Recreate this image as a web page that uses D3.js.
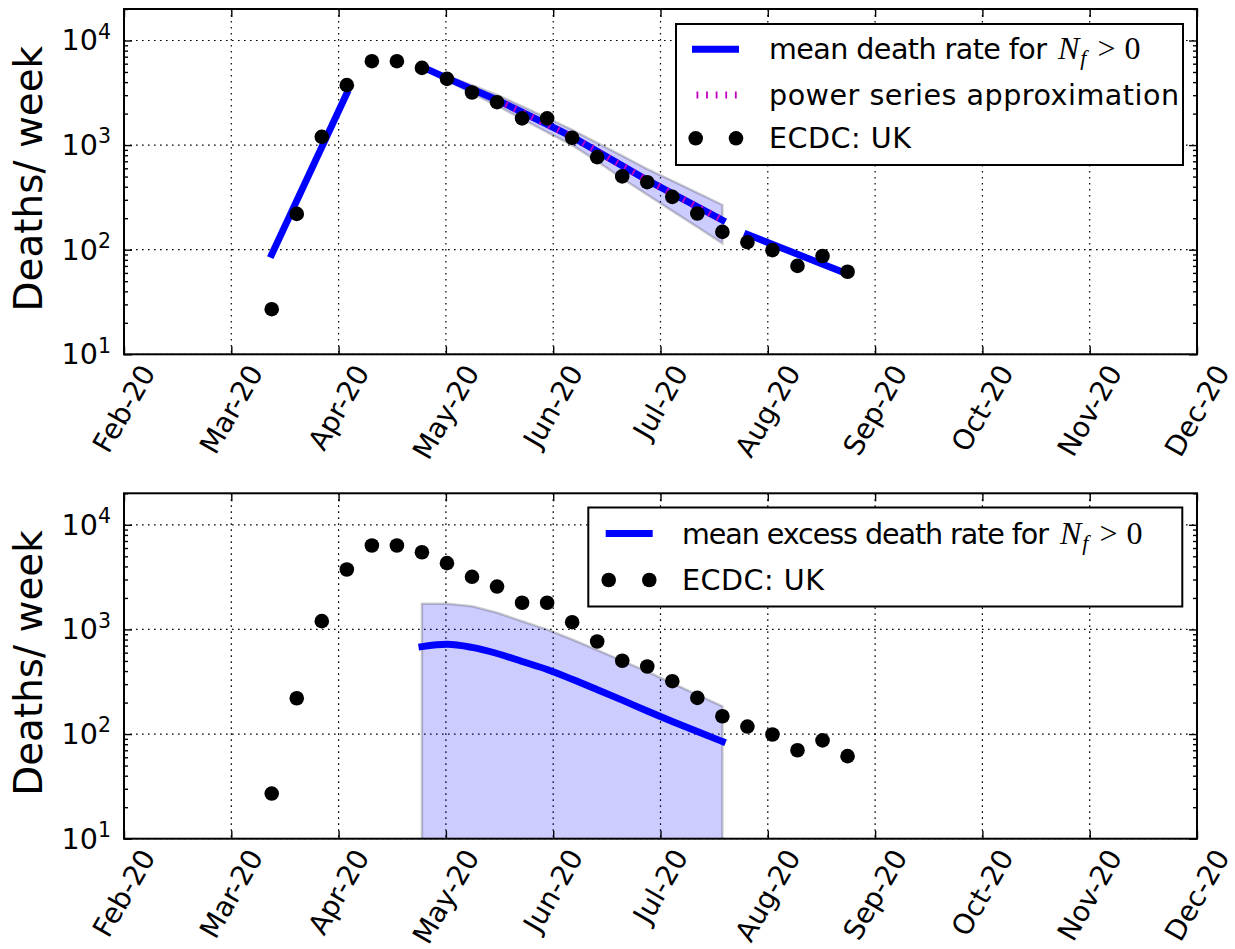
<!DOCTYPE html>
<html><head><meta charset="utf-8">
<script src="https://cdn.jsdelivr.net/npm/d3@7"></script>
<style>
body{margin:0;background:#fff}
svg{display:block}
text{font-family:"DejaVu Sans",sans-serif;fill:#000}
</style>
</head><body>
<script>
// ---------- data ----------
// x positions are days counted from the Feb-20 tick; ticks every 30 days
const monthLabels = ["Feb-20","Mar-20","Apr-20","May-20","Jun-20","Jul-20","Aug-20","Sep-20","Oct-20","Nov-20","Dec-20"];
const monthTickDays = [0,30,60,90,120,150,180,210,240,270,300];
const yTickExponents = [1,2,3,4];

// ECDC: UK weekly deaths
const weekDays = [41.3,48.3,55.3,62.3,69.3,76.3,83.3,90.3,97.3,104.3,111.3,118.3,125.3,132.3,139.3,146.3,153.3,160.3,167.3,174.3,181.3,188.3,195.3,202.3];
const ukDeaths = [27,220,1200,3740,6340,6340,5470,4300,3185,2570,1800,1800,1173,767,502,442,320,222,148,118,99,70,87,61.5];

// top panel: mean death rate for N_f > 0 (three fitted pieces)
const growthDays = [41.3,62.3];
const growthRate = [90,3120];
const decayDays = [83.3,90.3,97.3,104.3,111.3,118.3,125.3,132.3,139.3,146.3,153.3,160.3,167.3];
const decayRate = [5600,4370,3430,2700,2065,1575,1200,873,635,462,345,257,192];
const decayUpper = [5710,4590,3740,3020,2350,1820,1400,1050,790,590,455,350,268];
const decayLower = [5490,4150,3120,2380,1780,1330,1000,700,480,335,235,165,115];
const lateDays = [174.3,202.3];
const lateRate = [140,58.5];
// power series approximation
const powerDays = [104.3,111.3,118.3,125.3,132.3,139.3,146.3,153.3,160.3,167.3];
const powerRate = [2700,2065,1575,1200,873,635,462,345,257,192];

// bottom panel: mean excess death rate for N_f > 0
const excessDays = [83.3,90.3,97.3,104.3,111.3,118.3,125.3,132.3,139.3,146.3,153.3,160.3,167.3];
const excessRate = [684,721,673,589,494,414,334,266,211,166,132,106,85];
const excessUpper = [1760,1760,1667,1445,1197,995,801,635,501,395,306,237,184];
const excessLower = [1,1,1,1,1,1,1,1,1,1,1,1,1];

// ---------- drawing ----------
const W = 1235, H = 949;
const FS = 28.6, FS_TICK = 28, FS_LABEL = 38.9;
const BLUE = "#0000ff", MAG = "#bf00bf";
const svg = d3.select("body").append("svg").attr("width", W).attr("height", H);

const left = 124, right = 1197;
const x = d3.scaleLinear().domain([0,300]).range([left,right]);

function zip(a,b){ return a.map((d,i)=>[d,b[i]]); }

function drawPanel(top, bottom, id, drawData, legendFn){
  const y = d3.scaleLog().domain([10,20000]).range([bottom, top]);
  const g = svg.append("g");

  g.append("clipPath").attr("id","clip"+id).append("rect")
    .attr("x",left).attr("y",top).attr("width",right-left).attr("height",bottom-top);

  // grid
  const grid = g.append("g").attr("stroke","#000").attr("stroke-width",1.2).attr("stroke-dasharray","1.6,4.4");
  monthTickDays.forEach(d=>{
    grid.append("line").attr("x1",x(d)).attr("x2",x(d)).attr("y1",top).attr("y2",bottom);
  });
  yTickExponents.forEach(e=>{
    const v = Math.pow(10,e);
    grid.append("line").attr("x1",left).attr("x2",right).attr("y1",y(v)).attr("y2",y(v));
  });

  const data = g.append("g").attr("clip-path","url(#clip"+id+")");
  drawData(data, y);

  // axes using d3 axis generators (inward ticks)
  const fmt = ()=>"";
  const ticksY = [];
  for(let e=1;e<=4;e++){ for(let m=2;m<=9;m++){ const v=m*Math.pow(10,e); if(v<=20000) ticksY.push(v);} }
  const majY = yTickExponents.map(e=>Math.pow(10,e));
  const axL = d3.axisRight(y).tickValues(majY).tickSize(8).tickFormat(fmt);
  const axLm = d3.axisRight(y).tickValues(ticksY).tickSize(4).tickFormat(fmt);
  const axR = d3.axisLeft(y).tickValues(majY).tickSize(8).tickFormat(fmt);
  const axRm = d3.axisLeft(y).tickValues(ticksY).tickSize(4).tickFormat(fmt);
  const axB = d3.axisTop(x).tickValues(monthTickDays).tickSize(8).tickFormat(fmt);
  const axT = d3.axisBottom(x).tickValues(monthTickDays).tickSize(8).tickFormat(fmt);
  [[axL,`translate(${left},0)`],[axLm,`translate(${left},0)`],[axR,`translate(${right},0)`],[axRm,`translate(${right},0)`],
   [axB,`translate(0,${bottom})`],[axT,`translate(0,${top})`]].forEach(([a,t])=>{
    const ag = g.append("g").attr("transform",t).call(a);
    ag.select(".domain").remove();
    ag.selectAll("line").attr("stroke","#000").attr("stroke-width",1.4);
  });
  g.append("rect").attr("x",left).attr("y",top).attr("width",right-left).attr("height",bottom-top)
    .attr("fill","none").attr("stroke","#000").attr("stroke-width",2);

  // y tick labels 10^e
  yTickExponents.forEach(e=>{
    const t = g.append("text").attr("x",111).attr("y",y(Math.pow(10,e))+10)
      .attr("text-anchor","end").style("font-size",FS+"px");
    t.append("tspan").text("10");
    t.append("tspan").text(e).style("font-size","20.5px").attr("dy",-11.7);
  });

  // x tick labels rotated 60deg, centered on tick (matplotlib style)
  const Hbox = FS_TICK*1.164;
  monthLabels.forEach((lab,i)=>{
    const t = g.append("text").text(lab).style("font-size",FS_TICK+"px")
      .attr("text-anchor","middle").attr("y",0.346*FS_TICK);
    const L = t.node().getComputedTextLength();
    const hb = 0.866*L + 0.5*Hbox;
    t.attr("transform",`translate(${x(monthTickDays[i])},${bottom+5+hb/2}) rotate(-60)`);
  });

  // y label
  g.append("text").text("Deaths/ week").style("font-size",FS_LABEL+"px")
    .attr("text-anchor","middle")
    .attr("transform",`translate(41.5,${(top+bottom)/2-3}) rotate(-90)`);

  legendFn(g);
  return y;
}

// legend label text (fixed width like the reference) followed by math "N_f > 0"
function legendText(g, x0, yb, str, len, withMath){
  g.append("text").attr("x",x0).attr("y",yb).style("font-size",FS+"px")
    .attr("textLength",len).attr("lengthAdjust","spacing").text(str);
  if(!withMath) return;
  const t = g.append("text").attr("x",x0+len+11).attr("y",yb)
    .style("font-family","'Liberation Serif',serif").style("font-size","32px");
  t.append("tspan").text("N").style("font-style","italic");
  t.append("tspan").text("f").attr("dx",1).attr("dy",6).style("font-style","italic").style("font-size","22px");
  t.append("tspan").text(">").attr("dx",11).attr("dy",-6);
  t.append("tspan").text("0").attr("dx",9);
}

const lineGen = (y)=> d3.line().x(d=>x(d[0])).y(d=>y(d[1]));

// ---- top panel ----
drawPanel(9, 354.3, "a", (g,y)=>{
  const area = d3.area().x(d=>x(d[0])).y0(d=>y(d[2])).y1(d=>y(d[1]));
  g.append("path").datum(decayDays.map((d,i)=>[d,decayUpper[i],decayLower[i]]))
    .attr("d",area).attr("fill","rgba(0,0,255,0.2)").attr("stroke","rgba(0,0,0,0.2)").attr("stroke-width",2.5);
  [[growthDays,growthRate],[decayDays,decayRate],[lateDays,lateRate]].forEach(([dd,vv])=>{
    g.append("path").datum(zip(dd,vv)).attr("d",lineGen(y)).attr("fill","none")
      .attr("stroke",BLUE).attr("stroke-width",6.9).attr("stroke-linecap","square");
  });
  g.append("path").datum(zip(powerDays,powerRate)).attr("d",lineGen(y)).attr("fill","none")
    .attr("stroke",MAG).attr("stroke-width",6.9).attr("stroke-dasharray","1.8,7.8");
  g.selectAll("circle").data(zip(weekDays,ukDeaths)).enter().append("circle")
    .attr("cx",d=>x(d[0])).attr("cy",d=>y(d[1])).attr("r",7.3).attr("fill","#000");
}, (g)=>{
  g.append("rect").attr("x",676).attr("y",24).attr("width",507).attr("height",141)
    .attr("fill","#fff").attr("stroke","#000").attr("stroke-width",2);
  g.append("line").attr("x1",692).attr("x2",739).attr("y1",49.3).attr("y2",49.3).attr("stroke",BLUE).attr("stroke-width",6.9);
  g.append("line").attr("x1",692).attr("x2",739).attr("y1",95).attr("y2",95).attr("stroke",MAG).attr("stroke-width",6.9)
    .attr("stroke-dasharray","1.8,7.8").attr("stroke-dashoffset",-4.5);
  [695.7,736].forEach(cx=>g.append("circle").attr("cx",cx).attr("cy",138.3).attr("r",7.3).attr("fill","#000"));
  legendText(g, 769, 49.3+10, "mean death rate for", 278, true);
  legendText(g, 769, 95+10, "power series approximation", 410, false);
  legendText(g, 769, 138.3+10, "ECDC: UK", 142, false);
});

// ---- bottom panel ----
drawPanel(493.3, 838.7, "b", (g,y)=>{
  const area = d3.area().x(d=>x(d[0])).y0(d=>y(d[2])).y1(d=>y(d[1]));
  g.append("path").datum(excessDays.map((d,i)=>[d,excessUpper[i],excessLower[i]]))
    .attr("d",area).attr("fill","rgba(0,0,255,0.2)").attr("stroke","rgba(0,0,0,0.2)").attr("stroke-width",2.5);
  g.append("path").datum(zip(excessDays,excessRate)).attr("d",lineGen(y).curve(d3.curveMonotoneX)).attr("fill","none")
    .attr("stroke",BLUE).attr("stroke-width",6.9).attr("stroke-linecap","square");
  g.selectAll("circle").data(zip(weekDays,ukDeaths)).enter().append("circle")
    .attr("cx",d=>x(d[0])).attr("cy",d=>y(d[1])).attr("r",7.3).attr("fill","#000");
}, (g)=>{
  g.append("rect").attr("x",588.3).attr("y",507.5).attr("width",594).attr("height",99)
    .attr("fill","#fff").attr("stroke","#000").attr("stroke-width",2);
  g.append("line").attr("x1",605.7).attr("x2",652.7).attr("y1",533.5).attr("y2",533.5).attr("stroke",BLUE).attr("stroke-width",6.9);
  [608.7,649.3].forEach(cx=>g.append("circle").attr("cx",cx).attr("cy",580).attr("r",7.3).attr("fill","#000"));
  legendText(g, 682, 533.5+10, "mean excess death rate for", 367, true);
  legendText(g, 682, 580+10, "ECDC: UK", 142, false);
});
</script>
</body></html>
